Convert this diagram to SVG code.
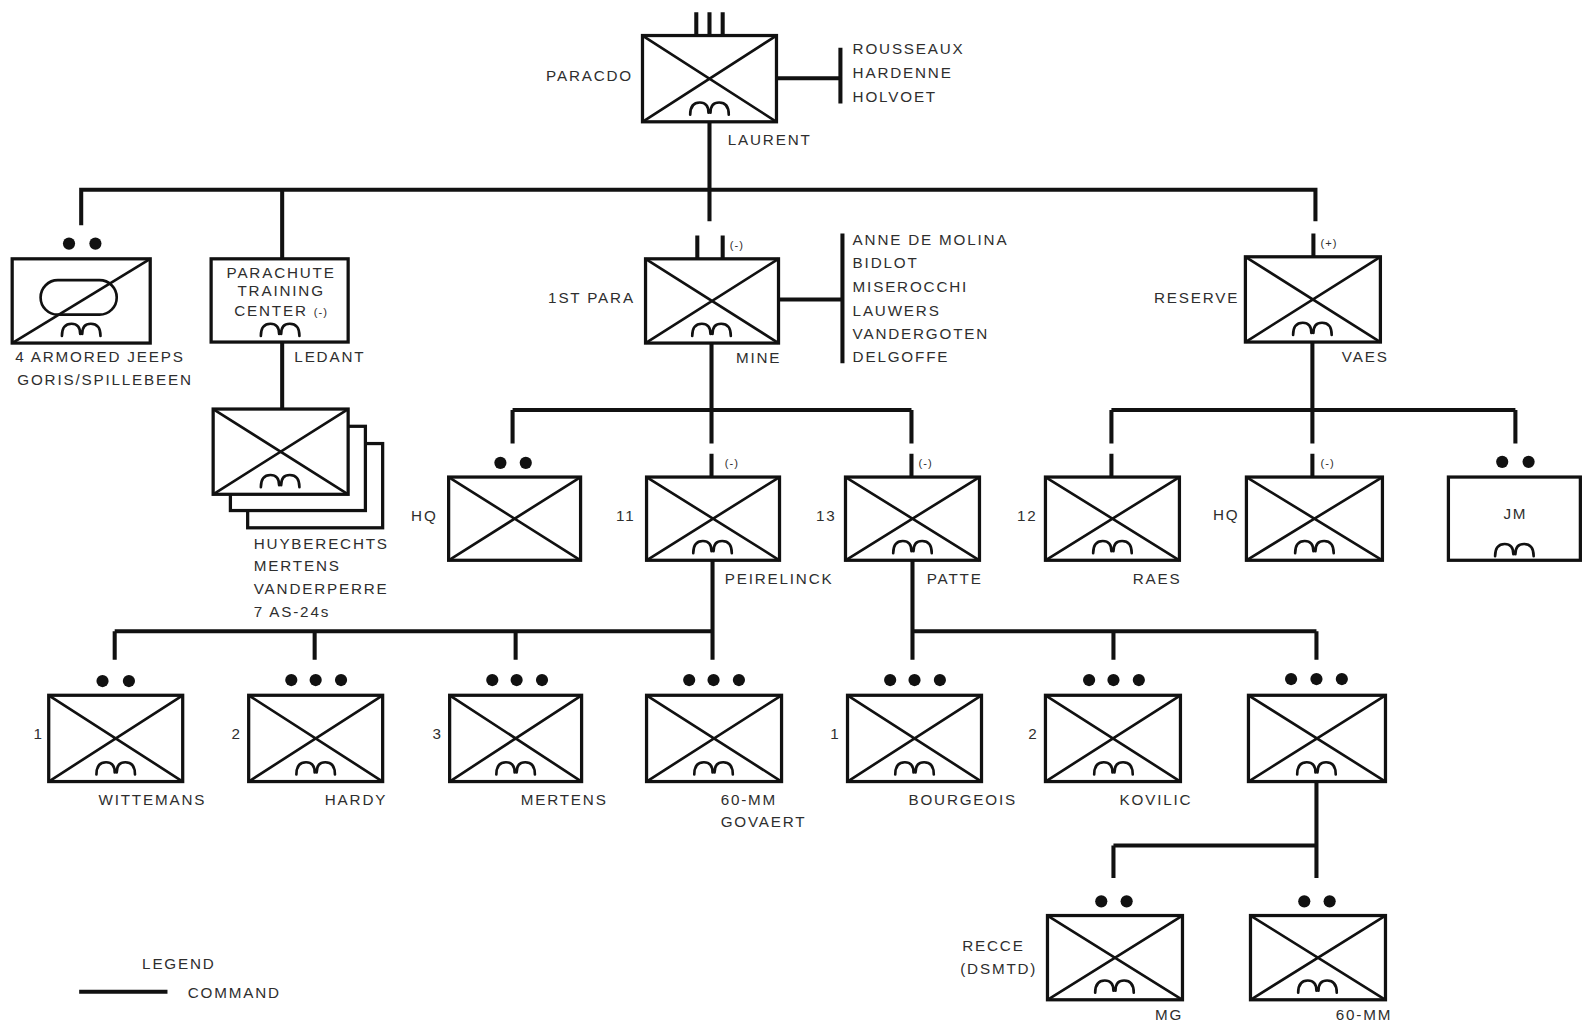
<svg xmlns="http://www.w3.org/2000/svg" xmlns:xlink="http://www.w3.org/1999/xlink" width="1590" height="1026" viewBox="0 0 1590 1026">
<style>
.bx{fill:#fff;stroke:#111;stroke-width:3.2}
.dg{stroke:#111;stroke-width:2.6;fill:none}
.cn{stroke:#111;stroke-width:4;fill:none}
.ab{stroke:#111;stroke-width:2.6;fill:none;stroke-linecap:round}
.dot{fill:#111}
text{font-family:"Liberation Sans",Arial,sans-serif;font-size:15px;fill:#2e2e2e;letter-spacing:1.8px}
.sm{font-size:11px;letter-spacing:1px}
</style>
<defs>
<path id="ab" class="ab" d="M-19 5 Q-19 -7 -9.5 -7 Q-1 -7 -1 3 M1 3 Q1 -7 9.5 -7 Q19 -7 19 5"/>
</defs>
<rect width="1590" height="1026" fill="#fff"/>
<g transform="scale(1.015)">

<g id="connectors">
<path class="cn" d="M686 12V35M699 12V35M712 12V35"/>
<path class="cn" d="M765 77H828M828 47V102"/>
<path class="cn" d="M699 120V187M78 187H1298M80 187V222M278 187V255M699 187V218M1296 187V218"/>
<path class="cn" d="M687 232V255M712 232V255M1294 230V253"/>
<path class="cn" d="M767 295H830M830 230V358"/>
<path class="cn" d="M278 337V403"/>
<path class="cn" d="M701 338V404M505 404H898M505 404V437M701 404V437M898 404V437M701 447V470M898 447V470"/>
<path class="cn" d="M1293 337V404M1095 404H1493M1095 404V437M1293 404V437M1493 404V437M1095 447V470M1293 447V470"/>
<path class="cn" d="M702 552V622M113 622H702M113 622V650M310 622V650M508 622V650M702 622V650"/>
<path class="cn" d="M899 552V622H1297M899 622V650M1097 622V650M1297 622V650"/>
<path class="cn" d="M1297 770V865M1097 833H1297M1097 833V865"/>
<path class="cn" d="M78 977H165"/>
</g>

<g id="paracdo">
<rect class="bx" x="633" y="35" width="132" height="85"/>
<path class="dg" d="M633 35L765 120M765 35L633 120"/>
<use xlink:href="#ab" x="699" y="108"/>
<text x="538" y="80">PARACDO</text>
<text x="717" y="143">LAURENT</text>
<text x="840" y="53">ROUSSEAUX</text>
<text x="840" y="77">HARDENNE</text>
<text x="840" y="100">HOLVOET</text>
</g>

<g id="jeeps">
<circle class="dot" cx="68" cy="240" r="6"/><circle class="dot" cx="94" cy="240" r="6"/>
<rect class="bx" x="12" y="255" width="136" height="83"/>
<rect class="dg" x="40" y="276" width="75" height="34" rx="17"/>
<path class="dg" d="M12 338L148 255"/>
<use xlink:href="#ab" x="80" y="326"/>
<text x="15" y="357">4 ARMORED JEEPS</text>
<text x="17" y="379">GORIS/SPILLEBEEN</text>
</g>

<g id="ptc">
<rect class="bx" x="208" y="255" width="135" height="82"/>
<text x="277" y="274" text-anchor="middle">PARACHUTE</text>
<text x="277" y="292" text-anchor="middle">TRAINING</text>
<text x="277" y="311" text-anchor="middle">CENTER <tspan class="sm">(-)</tspan></text>
<use xlink:href="#ab" x="276" y="326"/>
<text x="290" y="357">LEDANT</text>
</g>

<g id="ptc-units">
<rect class="bx" x="244" y="437" width="133" height="83"/>
<rect class="bx" x="227" y="420" width="133" height="83"/>
<rect class="bx" x="210" y="403" width="133" height="84"/>
<path class="dg" d="M210 403L343 487M343 403L210 487"/>
<use xlink:href="#ab" x="276" y="475"/>
<text x="250" y="541">HUYBERECHTS</text>
<text x="250" y="563">MERTENS</text>
<text x="250" y="585">VANDERPERRE</text>
<text x="250" y="608">7 AS-24s</text>
</g>

<g id="para1">
<rect class="bx" x="636" y="255" width="131" height="83"/>
<path class="dg" d="M636 255L767 338M767 255L636 338"/>
<use xlink:href="#ab" x="701" y="326"/>
<text x="719" y="245" class="sm">(-)</text>
<text x="540" y="299">1ST PARA</text>
<text x="725" y="358">MINE</text>
<text x="840" y="241">ANNE DE MOLINA</text>
<text x="840" y="264">BIDLOT</text>
<text x="840" y="288">MISEROCCHI</text>
<text x="840" y="311">LAUWERS</text>
<text x="840" y="334">VANDERGOTEN</text>
<text x="840" y="357">DELGOFFE</text>
</g>

<g id="reserve">
<rect class="bx" x="1227" y="253" width="133" height="84"/>
<path class="dg" d="M1227 253L1360 337M1360 253L1227 337"/>
<use xlink:href="#ab" x="1293" y="325"/>
<text x="1301" y="243" class="sm">(+)</text>
<text x="1137" y="299">RESERVE</text>
<text x="1322" y="357">VAES</text>
</g>

<g id="hq1">
<circle class="dot" cx="493" cy="456" r="6"/><circle class="dot" cx="518" cy="456" r="6"/>
<rect class="bx" x="442" y="470" width="130" height="82"/>
<path class="dg" d="M442 470L572 552M572 470L442 552"/>
<text x="405" y="513">HQ</text>
</g>

<g id="co11">
<rect class="bx" x="637" y="470" width="131" height="82"/>
<path class="dg" d="M637 470L768 552M768 470L637 552"/>
<use xlink:href="#ab" x="702" y="540"/>
<text x="714" y="460" class="sm">(-)</text>
<text x="607" y="513">11</text>
<text x="714" y="575">PEIRELINCK</text>
</g>

<g id="co13">
<rect class="bx" x="833" y="470" width="132" height="82"/>
<path class="dg" d="M833 470L965 552M965 470L833 552"/>
<use xlink:href="#ab" x="899" y="540"/>
<text x="905" y="460" class="sm">(-)</text>
<text x="804" y="513">13</text>
<text x="913" y="575">PATTE</text>
</g>

<g id="co12">
<rect class="bx" x="1030" y="470" width="132" height="82"/>
<path class="dg" d="M1030 470L1162 552M1162 470L1030 552"/>
<use xlink:href="#ab" x="1096" y="540"/>
<text x="1002" y="513">12</text>
<text x="1116" y="575">RAES</text>
</g>

<g id="hq2">
<rect class="bx" x="1228" y="470" width="134" height="82"/>
<path class="dg" d="M1228 470L1362 552M1362 470L1228 552"/>
<use xlink:href="#ab" x="1295" y="540"/>
<text x="1301" y="460" class="sm">(-)</text>
<text x="1195" y="512">HQ</text>
</g>

<g id="jm">
<circle class="dot" cx="1480" cy="455" r="6"/><circle class="dot" cx="1506" cy="455" r="6"/>
<rect class="bx" x="1427" y="470" width="130" height="82"/>
<text x="1493" y="511" text-anchor="middle">JM</text>
<use xlink:href="#ab" x="1492" y="543"/>
</g>

<g id="pl1">
<circle class="dot" cx="101" cy="671" r="6"/><circle class="dot" cx="127" cy="671" r="6"/>
<rect class="bx" x="48" y="685" width="132" height="85"/>
<path class="dg" d="M48 685L180 770M180 685L48 770"/>
<use xlink:href="#ab" x="114" y="758"/>
<text x="33" y="728">1</text>
<text x="97" y="793">WITTEMANS</text>
</g>

<g id="pl2">
<circle class="dot" cx="287" cy="670" r="6"/><circle class="dot" cx="311" cy="670" r="6"/><circle class="dot" cx="336" cy="670" r="6"/>
<rect class="bx" x="245" y="685" width="132" height="85"/>
<path class="dg" d="M245 685L377 770M377 685L245 770"/>
<use xlink:href="#ab" x="311" y="758"/>
<text x="228" y="728">2</text>
<text x="320" y="793">HARDY</text>
</g>

<g id="pl3">
<circle class="dot" cx="485" cy="670" r="6"/><circle class="dot" cx="509" cy="670" r="6"/><circle class="dot" cx="534" cy="670" r="6"/>
<rect class="bx" x="443" y="685" width="130" height="85"/>
<path class="dg" d="M443 685L573 770M573 685L443 770"/>
<use xlink:href="#ab" x="508" y="758"/>
<text x="426" y="728">3</text>
<text x="513" y="793">MERTENS</text>
</g>

<g id="pl4">
<circle class="dot" cx="679" cy="670" r="6"/><circle class="dot" cx="703" cy="670" r="6"/><circle class="dot" cx="728" cy="670" r="6"/>
<rect class="bx" x="637" y="685" width="133" height="85"/>
<path class="dg" d="M637 685L770 770M770 685L637 770"/>
<use xlink:href="#ab" x="703" y="758"/>
<text x="710" y="793">60-MM</text>
<text x="710" y="815">GOVAERT</text>
</g>

<g id="pl5">
<circle class="dot" cx="877" cy="670" r="6"/><circle class="dot" cx="901" cy="670" r="6"/><circle class="dot" cx="926" cy="670" r="6"/>
<rect class="bx" x="835" y="685" width="132" height="85"/>
<path class="dg" d="M835 685L967 770M967 685L835 770"/>
<use xlink:href="#ab" x="901" y="758"/>
<text x="818" y="728">1</text>
<text x="895" y="793">BOURGEOIS</text>
</g>

<g id="pl6">
<circle class="dot" cx="1073" cy="670" r="6"/><circle class="dot" cx="1097" cy="670" r="6"/><circle class="dot" cx="1122" cy="670" r="6"/>
<rect class="bx" x="1030" y="685" width="133" height="85"/>
<path class="dg" d="M1030 685L1163 770M1163 685L1030 770"/>
<use xlink:href="#ab" x="1097" y="758"/>
<text x="1013" y="728">2</text>
<text x="1103" y="793">KOVILIC</text>
</g>

<g id="pl7">
<circle class="dot" cx="1272" cy="669" r="6"/><circle class="dot" cx="1297" cy="669" r="6"/><circle class="dot" cx="1322" cy="669" r="6"/>
<rect class="bx" x="1230" y="685" width="135" height="85"/>
<path class="dg" d="M1230 685L1365 770M1365 685L1230 770"/>
<use xlink:href="#ab" x="1297" y="758"/>
</g>

<g id="recce">
<circle class="dot" cx="1085" cy="888" r="6"/><circle class="dot" cx="1110" cy="888" r="6"/>
<rect class="bx" x="1032" y="902" width="133" height="83"/>
<path class="dg" d="M1032 902L1165 985M1165 902L1032 985"/>
<use xlink:href="#ab" x="1098" y="973"/>
<text x="948" y="937">RECCE</text>
<text x="946" y="960">(DSMTD)</text>
<text x="1138" y="1005">MG</text>
</g>

<g id="mm60">
<circle class="dot" cx="1285" cy="888" r="6"/><circle class="dot" cx="1310" cy="888" r="6"/>
<rect class="bx" x="1232" y="902" width="133" height="83"/>
<path class="dg" d="M1232 902L1365 985M1365 902L1232 985"/>
<use xlink:href="#ab" x="1298" y="973"/>
<text x="1316" y="1005">60-MM</text>
</g>

<g id="legend">
<text x="140" y="955">LEGEND</text>
<text x="185" y="983">COMMAND</text>
</g>
</g>
</svg>
